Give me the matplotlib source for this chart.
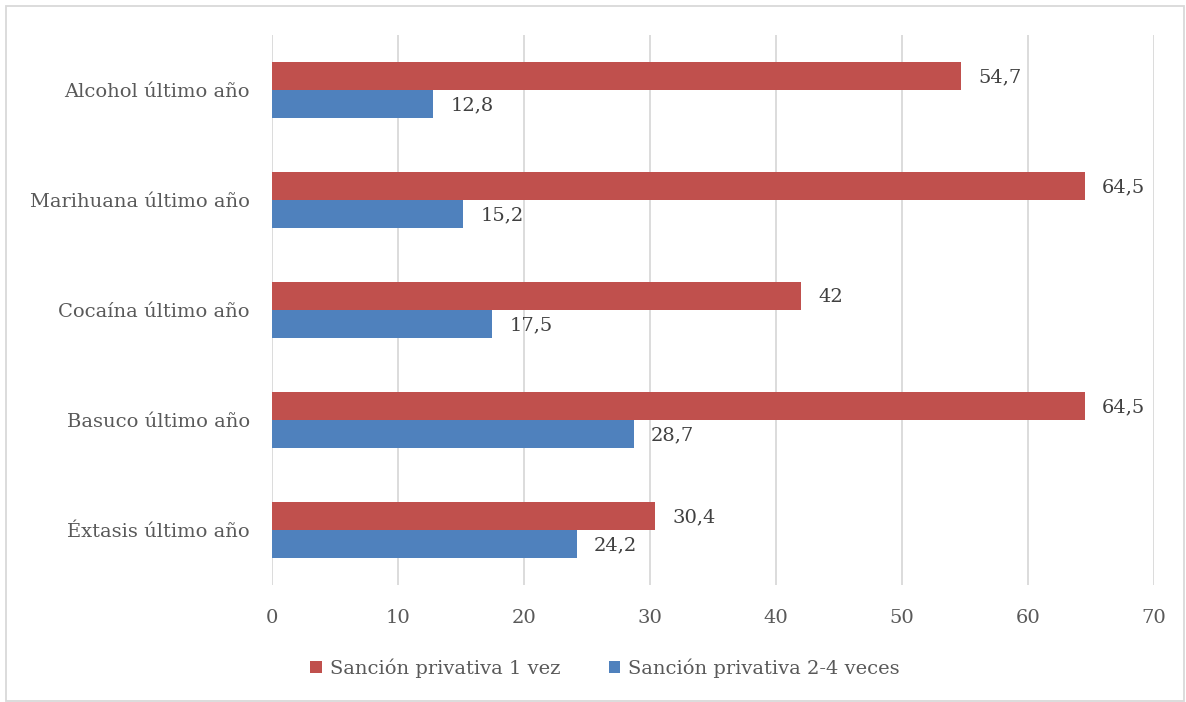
import matplotlib.pyplot as plt
import numpy as np
from matplotlib.patches import Rectangle

categories = ["Alcohol último año", "Marihuana último año", "Cocaína último año",
              "Basuco último año", "Éxtasis último año"]
una_vez = [54.7, 64.5, 42, 64.5, 30.4]
dos_cuatro = [12.8, 15.2, 17.5, 28.7, 24.2]
series_names = ["Sanción privativa 1 vez", "Sanción privativa 2-4 veces"]
label_una = ["54,7", "64,5", "42", "64,5", "30,4"]
label_dos = ["12,8", "15,2", "17,5", "28,7", "24,2"]

red = "#C0504D"
blue = "#4F81BD"
plt.rcParams["font.family"] = ["DejaVu Serif"]

fig = plt.figure(figsize=(11.86, 7.02), dpi=100)
ax = fig.add_axes([0.2293, 0.1667, 0.7437, 0.7834])

y = np.arange(len(categories))[::-1]
h = 0.255
b1 = ax.barh(y + h / 2, una_vez, height=h, color=red, label=series_names[0], zorder=3)
b2 = ax.barh(y - h / 2, dos_cuatro, height=h, color=blue, label=series_names[1], zorder=3)

for bars, labels in ((b1, label_una), (b2, label_dos)):
    for rect, txt in zip(bars, labels):
        ax.annotate(txt, (rect.get_width(), rect.get_y() + rect.get_height() / 2),
                    xytext=(17, -1), textcoords="offset pixels",
                    va="center", ha="left", fontsize=14, color="#404040")

ax.set_xlim(0, 70)
ax.set_ylim(-0.5, len(categories) - 0.5)
ax.set_xticks(range(0, 71, 10))
ax.set_yticks(y)
ax.set_yticklabels(categories)
ax.grid(axis="x", color="#D9D9D9", linewidth=1.3, zorder=0)
for s in ax.spines.values():
    s.set_visible(False)
ax.tick_params(axis="both", length=0, labelsize=14, colors="#595959")
ax.tick_params(axis="x", pad=17)
ax.tick_params(axis="y", pad=16)

ax.legend(loc="center", bbox_to_anchor=((605 - 272) / 882, -(668 - 585) / 550),
          ncol=2, frameon=False, fontsize=14, labelcolor="#595959",
          handlelength=0.6, handleheight=0.6, handletextpad=0.4, columnspacing=2.5)

fig.patches.append(Rectangle((6 / 1186, 0.002), 1178 / 1186, 1 - 7 / 702, transform=fig.transFigure,
                             fill=False, edgecolor="#D9D9D9", linewidth=1.3))

fig.savefig("out.png", dpi=100)
